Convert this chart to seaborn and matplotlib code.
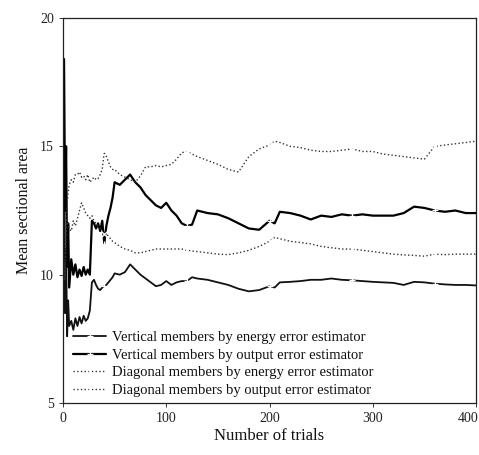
import numpy as np
import pandas as pd
import matplotlib
matplotlib.use("Agg")
import matplotlib.pyplot as plt
import matplotlib.transforms as mtransforms
import seaborn as sns

trials = [1, 2, 3, 4, 5, 6,
          8, 10, 12, 14, 16, 18, 20, 22, 24, 26, 28, 30, 32, 34, 36, 38, 40, 42, 44, 46, 48, 50,
          55, 60, 65, 70, 75, 80, 85, 90, 95, 100, 105, 110, 115, 120, 125, 130,
          140, 150, 160, 170, 180, 190, 200,
          205,
          210, 220, 230, 240, 250, 260, 270, 280, 290, 300, 310, 320, 330, 340, 350, 360, 370, 380, 390, 400]

vert_energy = [16.0, 8.5, 11.0, 7.6, 9.0, 8.0,
               8.2, 7.85, 8.3, 8.0, 8.35, 8.1, 8.4, 8.2, 8.3, 8.6, 9.7, 9.8, 9.6, 9.45, 9.4, 9.5, 9.55, 9.6, 9.7, 9.8, 9.9, 10.05,
               10.0, 10.1, 10.4, 10.2, 10.0, 9.85, 9.7, 9.55, 9.6, 9.75, 9.6, 9.7, 9.75, 9.75, 9.9, 9.85,
               9.8, 9.7, 9.6, 9.45, 9.35, 9.4, 9.55,
               9.5,
               9.7, 9.72, 9.75, 9.8, 9.8, 9.85, 9.8, 9.78, 9.75, 9.72, 9.7, 9.68, 9.6, 9.72, 9.7, 9.65, 9.62, 9.6, 9.6, 9.58]

vert_output = [18.4, 12.5, 15.0, 10.3, 12.0, 9.5,
               10.6, 10.0, 10.4, 9.9, 10.2, 9.95, 10.3, 10.0, 10.2, 10.0, 12.1, 12.0, 11.8, 12.0, 11.7, 12.1, 11.2, 11.9, 12.3, 12.6, 13.0, 13.6,
               13.5, 13.7, 13.9, 13.6, 13.4, 13.1, 12.9, 12.7, 12.6, 12.8, 12.5, 12.3, 12.0, 11.9, 11.95, 12.5,
               12.4, 12.35, 12.2, 12.0, 11.8, 11.75, 12.1,
               12.0,
               12.45, 12.4, 12.3, 12.15, 12.3, 12.25, 12.35, 12.3, 12.35, 12.3, 12.3, 12.3, 12.4, 12.65, 12.6, 12.5, 12.45, 12.5, 12.4, 12.4]

diag_energy = [10.5, 9.8, 11.5, 12.8, 13.2, 13.5,
               13.7, 13.6, 13.9, 13.9, 14.0, 13.8, 13.85, 13.7, 13.9, 13.6, 13.7, 13.8, 13.7, 13.75, 13.9, 14.1, 14.8, 14.6, 14.4, 14.2, 14.1, 14.1,
               13.9, 13.8, 13.7, 13.6, 13.85, 14.2, 14.2, 14.25, 14.2, 14.25, 14.3, 14.5, 14.75, 14.8, 14.7, 14.6,
               14.45, 14.3, 14.1, 14.0, 14.6, 14.9, 15.05,
               15.2,
               15.15, 15.0, 14.95, 14.85, 14.8, 14.8, 14.85, 14.9, 14.8, 14.8, 14.7, 14.65, 14.6, 14.55, 14.5, 15.0, 15.05, 15.1, 15.15, 15.2]

diag_output = [9.8, 10.0, 11.5, 12.2, 12.0, 11.8,
               11.7, 12.1, 11.9, 12.2, 12.5, 12.8, 12.6, 12.4, 12.3, 12.2, 12.3, 12.1, 12.0, 11.9, 11.8, 11.7, 11.6, 11.6, 11.5, 11.4, 11.3, 11.25,
               11.1, 11.0, 10.95, 10.85, 10.85, 10.9, 10.95, 11.0, 11.0, 11.0, 11.0, 11.0, 11.0, 10.95, 10.92, 10.9,
               10.85, 10.8, 10.78, 10.85, 10.95, 11.1, 11.3,
               11.45,
               11.4, 11.3, 11.25, 11.2, 11.1, 11.05, 11.0, 11.0, 10.95, 10.9, 10.85, 10.8, 10.77, 10.75, 10.72, 10.8, 10.78, 10.8, 10.8, 10.8]

labels = ["Vertical members by energy error estimator",
          "Vertical members by output error estimator",
          "Diagonal members by energy error estimator",
          "Diagonal members by output error estimator"]

x_ticks = [0, 100, 200, 300, 400]
y_ticks = [5, 10, 15, 20]

sns.set_style("ticks")
plt.rcParams['font.family'] = ['Liberation Serif', 'DejaVu Serif']

df = pd.DataFrame({"trial": trials, "ve": vert_energy, "vo": vert_output,
                   "de": diag_energy, "do": diag_output})

mark_idx = [i for i, t in enumerate(trials) if t in (40, 120, 200, 280, 360)]

fig = plt.figure(figsize=(4.79, 4.55), dpi=100)
ax = fig.add_axes([63/479, 1-403/455, 413/479, 385/455])

styles = [("ve", labels[0], "-", 1.3, "#111111", "+"),
          ("vo", labels[1], "-", 1.6, "#000000", "+"),
          ("de", labels[2], ":", 1.0, "#333333", "x"),
          ("do", labels[3], ":", 1.0, "#333333", "x")]
for col, lab, ls, lw, c, m in styles:
    sns.lineplot(data=df, x="trial", y=col, ax=ax, label=lab, color=c,
                 linestyle=ls, linewidth=lw, marker=m, markersize=5,
                 markeredgewidth=0.9, markevery=mark_idx, sort=False)

ax.set_xlim(0, 400)
ax.set_ylim(5, 20)
ax.set_xticks(x_ticks)
ax.set_yticks(y_ticks)
ax.tick_params(labelsize=10, length=3, width=0.7, color="#333333", labelcolor="#222222")
for s in ax.spines.values():
    s.set_linewidth(0.9)
    s.set_color("#222222")
ax.set_xlabel("Number of trials", fontsize=12, color="#111111", labelpad=2)
ax.set_ylabel("Mean sectional area", fontsize=11.5, color="#111111", labelpad=6)

# keep the last x tick label inside the figure
fig.canvas.draw()
last = ax.get_xticklabels()[-1]
last.set_transform(last.get_transform() + mtransforms.ScaledTranslation(-8/100, 0, fig.dpi_scale_trans))

leg = ax.legend(loc="lower left", bbox_to_anchor=(0.024, 0.016), frameon=False,
                fontsize=10.5, handlelength=2.3, handletextpad=0.35,
                labelspacing=0.3, borderpad=0, borderaxespad=0)
for t in leg.get_texts():
    t.set_color("#111111")

fig.savefig("out.png", dpi=100)
